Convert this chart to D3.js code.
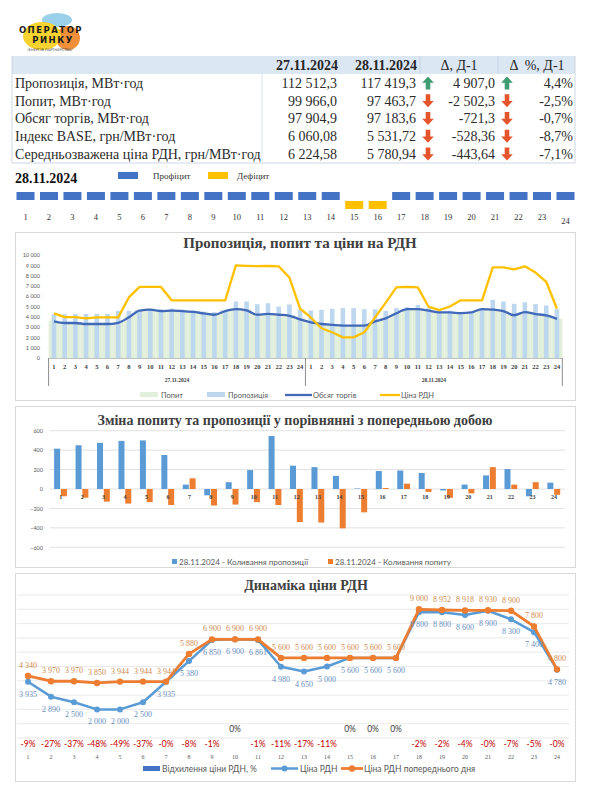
<!DOCTYPE html>
<html><head><meta charset="utf-8">
<script src="https://cdn.jsdelivr.net/npm/d3@7"></script>
<style>body{margin:0;background:#fff;} svg{display:block;}</style>
</head><body>
<svg id="c" width="593" height="800"></svg>
<script>
// ---------------- DATA ----------------
const tableHeaders = ["27.11.2024", "28.11.2024", "Δ, Д-1", "Δ  %, Д-1"];
const tableRows = ["Пропозиція, МВт·год", "Попит, МВт·год", "Обсяг торгів, МВт·год", "Індекс BASE, грн/МВт·год", "Середньозважена ціна РДН, грн/МВт·год"];
const valuesPrev = ["112 512,3", "99 966,0", "97 904,9", "6 060,08", "6 224,58"];
const valuesCur = ["117 419,3", "97 463,7", "97 183,6", "5 531,72", "5 780,94"];
const deltaAbs = ["4 907,0", "-2 502,3", "-721,3", "-528,36", "-443,64"];
const deltaPct = ["4,4%", "-2,5%", "-0,7%", "-8,7%", "-7,1%"];
const deltaDir = ["up", "down", "down", "down", "down"];

const hours = [1,2,3,4,5,6,7,8,9,10,11,12,13,14,15,16,17,18,19,20,21,22,23,24];
const balance = ["Профіцит","Профіцит","Профіцит","Профіцит","Профіцит","Профіцит","Профіцит","Профіцит","Профіцит","Профіцит","Профіцит","Профіцит","Профіцит","Профіцит","Дефіцит","Дефіцит","Профіцит","Профіцит","Профіцит","Профіцит","Профіцит","Профіцит","Профіцит","Профіцит"];

const days = ["27.11.2024", "28.11.2024"];
const supply27 = [4250,4230,4270,4270,4290,4290,4580,4580,4650,4700,4750,4800,4700,4620,4500,4450,4550,5480,5480,5230,5320,5000,5200,4680];
const supply28 = [4610,4680,4770,4840,4840,4740,4740,4580,4840,4940,5160,4840,4580,4580,4420,4420,4740,5650,5480,5260,5420,5230,5100,4740];
const demand27 = [3640,3490,3490,3390,3390,3390,3510,4040,4690,4790,4650,4690,4650,4570,4420,4290,4650,4840,4710,4290,4370,4290,4190,3840];
const demand28 = [3470,3310,3230,3160,3160,3160,3560,3860,4360,4760,4760,4610,4430,4430,4360,4430,4760,4710,4560,4160,4470,4280,4150,3810];
const volume27 = [3550,3400,3400,3300,3300,3300,3420,3950,4600,4700,4560,4600,4560,4480,4330,4200,4560,4750,4620,4200,4280,4200,4100,3750];
const volume28 = [3450,3300,3220,3150,3150,3150,3550,3850,4350,4750,4750,4600,4420,4420,4350,4420,4750,4700,4550,4150,4460,4270,4140,3800];
const pricePrev = [4340,3970,3970,3850,3944,3944,3944,5880,6900,6900,6900,5600,5600,5600,5600,5600,5600,9000,8952,8918,8930,8900,7800,4800];
const priceCur = [3935,2890,2500,2000,2000,2500,3935,5380,6850,6900,6861,4980,4650,5000,5600,5600,5600,8800,8800,8600,8900,8300,7400,4780];

const supplyChange = [415,450,475,495,500,350,45,-65,70,195,545,240,225,135,5,185,190,165,-15,45,140,205,-75,65];
const demandChange = [-75,-90,-130,-150,-135,-165,110,-170,-160,-135,-165,-340,-345,-405,-240,10,55,-30,-90,-45,225,45,70,-60];

const deviation = [-9.3,-27.2,-37.0,-48.1,-49.3,-36.6,-0.2,-8.5,-0.7,0,-0.6,-11.1,-17.0,-10.7,0,0,0,-2.2,-1.7,-3.6,-0.3,-6.7,-5.1,-0.4];

const chart1Ticks = [0,1000,2000,3000,4000,5000,6000,7000,8000,9000,10000];
const chart2Ticks = [-600,-400,-200,0,200,400,600];
const chart3Grid = [0,1000,2000,3000,4000,5000,6000,7000,8000,9000,10000];

// ---------------- HELPERS ----------------
const SERIF = "'Liberation Serif','Times New Roman',serif";
const SANS = "Lato,'Liberation Sans',Arial,sans-serif";
const svg = d3.select("#c");
svg.append("rect").attr("width",593).attr("height",800).attr("fill","#fff");
const fmtSp = v => d3.format(",")(v).replace(/,/g, " ");

function arrow(g, cx, cy, dir) {
  const s = dir === "up" ? -1 : 1;
  const p = d3.path();
  p.moveTo(cx, cy + s*6.5);
  p.lineTo(cx + 5.8, cy + s*0.2);
  p.lineTo(cx + 2.3, cy + s*0.2);
  p.lineTo(cx + 2.3, cy - s*6.5);
  p.lineTo(cx - 2.3, cy - s*6.5);
  p.lineTo(cx - 2.3, cy + s*0.2);
  p.lineTo(cx - 5.8, cy + s*0.2);
  p.closePath();
  g.append("path").attr("d", p.toString()).attr("fill", dir === "up" ? "#3f9b72" : "#e4552d");
}

// ---------------- LOGO ----------------
const logo = svg.append("g");
logo.append("ellipse").attr("cx",57).attr("cy",20).attr("rx",15).attr("ry",7).attr("fill","#8fcbe8").attr("opacity",0.9);
logo.append("ellipse").attr("cx",68).attr("cy",38).attr("rx",12).attr("ry",12).attr("fill","#f0913a");
logo.append("ellipse").attr("cx",42).attr("cy",36).attr("rx",19).attr("ry",14).attr("fill","#f6d330");
logo.append("text").attr("x",51).attr("y",33).attr("text-anchor","middle").attr("font-family","'DejaVu Sans',sans-serif")
  .attr("font-weight","bold").attr("font-size",8.5).attr("letter-spacing",1.5).attr("fill","#1a1a1a").text("ОПЕРАТОР");
logo.append("text").attr("x",53).attr("y",43).attr("text-anchor","middle").attr("font-family","'DejaVu Sans',sans-serif")
  .attr("font-weight","bold").attr("font-size",8.5).attr("letter-spacing",1.5).attr("fill","#1a1a1a").text("РИНКУ");
logo.append("text").attr("x",50).attr("y",51).attr("text-anchor","middle").attr("font-family","'DejaVu Sans',sans-serif")
  .attr("font-size",3.6).attr("fill","#333").text("/ЕНЕРГІЯ ПАРТНЕРСТВА/");

// ---------------- TABLE ----------------
const tbl = svg.append("g");
const tX0 = 12, tX1 = 575, hdrTop = 56, hdrBot = 74, rowH = 17.8;
tbl.append("rect").attr("x",tX0).attr("y",hdrTop).attr("width",tX1-tX0).attr("height",hdrBot-hdrTop).attr("fill","#dce7f4");
const bodyBot = hdrBot + rowH*tableRows.length;
tbl.append("path").attr("d",`M${tX0},${hdrTop}V${bodyBot}H${tX1}V${hdrTop}`).attr("fill","none").attr("stroke","#cdd7e3").attr("stroke-width",1);
tbl.append("line").attr("x1",262).attr("x2",262).attr("y1",hdrBot).attr("y2",bodyBot).attr("stroke","#dde3ea");
[420,498].forEach(x => tbl.append("line").attr("x1",x).attr("x2",x).attr("y1",hdrTop).attr("y2",hdrBot).attr("stroke","#c3d1e3"));
const hdrCenters = [307, 386, 459, 537];
tableHeaders.forEach((h,i) => tbl.append("text").attr("x",hdrCenters[i]).attr("y",70).attr("text-anchor","middle")
  .attr("font-family",SERIF).attr("font-weight",i < 2 ? "bold" : "normal").attr("font-size",14).attr("fill","#262626").attr("xml:space","preserve").text(h));
tableRows.forEach((r,i) => {
  const cy = hdrBot + rowH*i + rowH/2;
  const by = cy + 4.8;
  const t = (x, anchor, s) => tbl.append("text").attr("x",x).attr("y",by).attr("text-anchor",anchor)
    .attr("font-family",SERIF).attr("font-size",14).attr("fill","#2b2b2b").text(s);
  t(15,"start",r);
  t(337,"end",valuesPrev[i]);
  t(416,"end",valuesCur[i]);
  arrow(tbl, 428, cy, deltaDir[i]);
  t(495,"end",deltaAbs[i]);
  arrow(tbl, 507, cy, deltaDir[i]);
  t(573,"end",deltaPct[i]);
});

// ---------------- BALANCE TIMELINE ----------------
const tl = svg.append("g");
tl.append("text").attr("x",15).attr("y",183).attr("font-family",SERIF).attr("font-weight","bold").attr("font-size",14).attr("fill","#111").text("28.11.2024");
const balColor = {"Профіцит":"#4472c4","Дефіцит":"#ffc000"};
tl.append("rect").attr("x",118).attr("y",172).attr("width",20).attr("height",7).attr("fill",balColor["Профіцит"]);
tl.append("text").attr("x",153).attr("y",179).attr("font-family",SERIF).attr("font-size",9).attr("fill","#333").text("Профіцит");
tl.append("rect").attr("x",208).attr("y",172).attr("width",20).attr("height",7).attr("fill",balColor["Дефіцит"]);
tl.append("text").attr("x",237).attr("y",179).attr("font-family",SERIF).attr("font-size",9).attr("fill","#333").text("Дефіцит");
const xT = d3.scalePoint().domain(hours).range([25.5, 565.5]);
tl.selectAll("rect.blk").data(hours).join("rect").attr("class","blk")
  .attr("x",h => xT(h)-9).attr("width",18).attr("height",8)
  .attr("y",(h,i) => balance[i]==="Профіцит" ? 192 : 201)
  .attr("fill",(h,i) => balColor[balance[i]]);
tl.selectAll("text.hl").data(hours).join("text").attr("class","hl")
  .attr("x",h => xT(h)).attr("y",h => h===24 ? 224 : 220).attr("text-anchor","middle")
  .attr("font-family",SERIF).attr("font-size",8.5).attr("fill","#333").text(h => h);

// ---------------- CHART 1 ----------------
const c1 = svg.append("g");
c1.append("rect").attr("x",15.5).attr("y",232.5).attr("width",560).attr("height",168).attr("fill","none").attr("stroke","#d9d9d9");
c1.append("text").attr("x",300).attr("y",248).attr("text-anchor","middle").attr("font-family",SERIF).attr("font-weight","bold")
  .attr("font-size",15).attr("fill","#404040").text("Пропозиція, попит та ціни на РДН");
const idx48 = d3.range(48);
const sup = supply27.concat(supply28), dem = demand27.concat(demand28), vol = volume27.concat(volume28), prc = pricePrev.concat(priceCur);
const hr48 = hours.concat(hours);
const x1 = d3.scaleBand().domain(idx48).range([48.6, 562.3]).padding(0);
const y1 = d3.scaleLinear().domain([0,10000]).range([358,255]);
const cx1 = i => x1(i) + x1.bandwidth()/2;
c1.selectAll("rect.dem").data(idx48).join("rect").attr("class","dem")
  .attr("x",i => x1(i)).attr("width",x1.bandwidth()).attr("y",i => y1(dem[i])).attr("height",i => y1(0)-y1(dem[i])).attr("fill","#e2efda");
c1.selectAll("rect.sup").data(idx48).join("rect").attr("class","sup")
  .attr("x",i => cx1(i)-2.3).attr("width",4.6).attr("y",i => y1(sup[i])).attr("height",i => y1(0)-y1(sup[i])).attr("fill","#bdd7ee");
c1.append("path").attr("d",d3.line().x(cx1).y(i => y1(vol[i])).curve(d3.curveMonotoneX)(idx48)).attr("fill","none").attr("stroke","#4169b8").attr("stroke-width",2.3);
c1.append("path").attr("d",d3.line().x(cx1).y(i => y1(prc[i]))(idx48)).attr("fill","none").attr("stroke","#ffc000").attr("stroke-width",2.3).attr("stroke-linejoin","round");
const ax1 = c1.append("g").attr("transform","translate(43,0)").call(d3.axisLeft(y1).tickValues(chart1Ticks).tickSize(0).tickFormat(fmtSp));
ax1.select(".domain").remove();
ax1.selectAll("text").attr("font-family",SANS).attr("font-size",5.5).attr("fill","#595959");
c1.append("line").attr("x1",48.6).attr("x2",562.3).attr("y1",358.5).attr("y2",358.5).attr("stroke","#bfbfbf");
[0,24,48].forEach(k => {
  const x = k===48 ? 562.3 : x1(k);
  c1.append("line").attr("x1",x).attr("x2",x).attr("y1",358).attr("y2",386).attr("stroke","#8c8c8c");
});
c1.selectAll("text.h1").data(idx48).join("text").attr("class","h1")
  .attr("x",cx1).attr("y",369).attr("text-anchor","middle").attr("font-family",SERIF).attr("font-weight","bold")
  .attr("font-size",6.5).attr("fill","#404040").text(i => hr48[i]);
days.forEach((d,k) => c1.append("text").attr("x",(x1(k*24)+ (k===1?562.3:x1(24)))/2).attr("y",382).attr("text-anchor","middle")
  .attr("font-family",SERIF).attr("font-weight","bold").attr("font-size",5.5).attr("fill","#404040").text(d));
// legend
const lg1 = c1.append("g").attr("font-family",SANS).attr("font-size",7.5).attr("fill","#595959");
lg1.append("rect").attr("x",140).attr("y",392).attr("width",18).attr("height",5).attr("fill","#e2efda");
lg1.append("text").attr("x",161).attr("y",397.5).text("Попит");
lg1.append("rect").attr("x",207).attr("y",392).attr("width",18).attr("height",5).attr("fill","#bdd7ee");
lg1.append("text").attr("x",228).attr("y",397.5).text("Пропозиція");
lg1.append("line").attr("x1",285).attr("x2",312).attr("y1",395).attr("y2",395).attr("stroke","#4169b8").attr("stroke-width",2.3);
lg1.append("text").attr("x",313).attr("y",397.5).text("Обсяг торгів");
lg1.append("line").attr("x1",380).attr("x2",400).attr("y1",395).attr("y2",395).attr("stroke","#ffc000").attr("stroke-width",2.3);
lg1.append("text").attr("x",401).attr("y",397.5).text("Ціна РДН");

// ---------------- CHART 2 ----------------
const c2 = svg.append("g");
c2.append("rect").attr("x",15.5).attr("y",406.5).attr("width",560).attr("height",161).attr("fill","none").attr("stroke","#d9d9d9");
c2.append("text").attr("x",295).attr("y",425).attr("text-anchor","middle").attr("font-family",SERIF).attr("font-weight","bold")
  .attr("font-size",14).attr("fill","#404040").text("Зміна попиту та пропозиції у порівнянні з попередньою добою");
const x2 = d3.scaleBand().domain(hours).range([50, 564.7]).padding(0);
const y2 = d3.scaleLinear().domain([-600,600]).range([547.3,430.7]);
const cx2 = h => x2(h) + x2.bandwidth()/2;
c2.selectAll("line.g").data(chart2Ticks).join("line").attr("class","g")
  .attr("x1",50).attr("x2",565).attr("y1",v => y2(v)).attr("y2",v => y2(v)).attr("stroke","#d9d9d9").attr("stroke-width",0.8);
const ax2 = c2.append("g").attr("transform","translate(46,0)").call(d3.axisLeft(y2).tickValues(chart2Ticks).tickSize(0));
ax2.select(".domain").remove();
ax2.selectAll("text").attr("font-family",SANS).attr("font-size",5.5).attr("fill","#595959");
c2.selectAll("rect.s").data(hours).join("rect").attr("class","s")
  .attr("x",h => cx2(h)-6.6).attr("width",6).attr("y",(h,i) => y2(Math.max(0,supplyChange[i])))
  .attr("height",(h,i) => Math.abs(y2(supplyChange[i])-y2(0))).attr("fill","#5b9bd5");
c2.selectAll("rect.d").data(hours).join("rect").attr("class","d")
  .attr("x",h => cx2(h)+0.2).attr("width",6).attr("y",(h,i) => y2(Math.max(0,demandChange[i])))
  .attr("height",(h,i) => Math.abs(y2(demandChange[i])-y2(0))).attr("fill","#ed7d31");
c2.selectAll("text.h2").data(hours).join("text").attr("class","h2")
  .attr("x",cx2).attr("y",499).attr("text-anchor","middle").attr("font-family",SERIF).attr("font-weight","bold")
  .attr("font-size",6).attr("fill","#404040").text(h => h);
const lg2 = c2.append("g").attr("font-family",SANS).attr("font-size",8).attr("fill","#595959");
lg2.append("rect").attr("x",172).attr("y",559).attr("width",5).attr("height",5).attr("fill","#5b9bd5");
lg2.append("text").attr("x",179).attr("y",564.5).text("28.11.2024 - Коливання пропозиції");
lg2.append("rect").attr("x",328).attr("y",559).attr("width",5).attr("height",5).attr("fill","#ed7d31");
lg2.append("text").attr("x",335).attr("y",564.5).text("28.11.2024 - Коливання попиту");

// ---------------- CHART 3 ----------------
const c3 = svg.append("g");
c3.append("rect").attr("x",15.5).attr("y",573.5).attr("width",560).attr("height",208).attr("fill","none").attr("stroke","#d9d9d9");
c3.append("text").attr("x",306).attr("y",590).attr("text-anchor","middle").attr("font-family",SERIF).attr("font-weight","bold")
  .attr("font-size",14).attr("fill","#404040").text("Динаміка ціни РДН");
const x3 = d3.scalePoint().domain(hours).range([28, 557]);
const y3 = d3.scaleLinear().domain([0,10000]).range([738,595]);
c3.selectAll("line.g").data(chart3Grid).join("line").attr("class","g")
  .attr("x1",17).attr("x2",569).attr("y1",v => y3(v)).attr("y2",v => y3(v)).attr("stroke","#e3e3e3").attr("stroke-width",0.8);
c3.selectAll("text.h3").data(hours).join("text").attr("class","h3")
  .attr("x",x3).attr("y",759).attr("text-anchor","middle").attr("font-family",SERIF)
  .attr("font-size",6).attr("fill","#595959").text(h => h);
const fmtPct = v => { const r = Math.round(v); return (r === 0 ? (v < 0 ? "-0" : "0") : String(r)) + "%"; };
c3.selectAll("text.dv").data(hours).join("text").attr("class","dv")
  .attr("x",x3).attr("y",(h,i) => deviation[i] === 0 ? 732 : 747).attr("text-anchor","middle")
  .attr("font-family",SANS).attr("font-size",8.5)
  .attr("fill",(h,i) => deviation[i] === 0 ? "#404040" : "#c00000").text((h,i) => fmtPct(deviation[i]));
const lineB = d3.line().x(h => x3(h)).y((h,i) => y3(priceCur[i]));
const lineO = d3.line().x(h => x3(h)).y((h,i) => y3(pricePrev[i]));
c3.append("path").attr("d",lineB(hours)).attr("fill","none").attr("stroke","#5b9bd5").attr("stroke-width",2.5).attr("stroke-linejoin","round");
c3.selectAll("circle.b").data(hours).join("circle").attr("class","b")
  .attr("cx",x3).attr("cy",(h,i) => y3(priceCur[i])).attr("r",3).attr("fill","#5b9bd5");
c3.append("path").attr("d",lineO(hours)).attr("fill","none").attr("stroke","#ed7d31").attr("stroke-width",2.8).attr("stroke-linejoin","round");
c3.selectAll("circle.o").data(hours).join("circle").attr("class","o")
  .attr("cx",x3).attr("cy",(h,i) => y3(pricePrev[i])).attr("r",3.2).attr("fill","#ed7d31");
c3.selectAll("text.lo").data(hours).join("text").attr("class","lo")
  .attr("x",x3).attr("y",(h,i) => y3(pricePrev[i]) - 8).attr("text-anchor","middle")
  .attr("font-family",SERIF).attr("font-size",8).attr("fill","#d08a4e").text((h,i) => fmtSp(pricePrev[i]));
c3.selectAll("text.lb").data(hours).join("text").attr("class","lb")
  .attr("x",x3).attr("y",(h,i) => y3(priceCur[i]) + 15).attr("text-anchor","middle")
  .attr("font-family",SERIF).attr("font-size",8).attr("fill","#6a8fc2").text((h,i) => fmtSp(priceCur[i]));
const lg3 = c3.append("g").attr("font-family",SANS).attr("font-size",8.5).attr("fill","#595959");
lg3.append("rect").attr("x",143).attr("y",766).attr("width",17).attr("height",5).attr("fill","#4472c4");
lg3.append("text").attr("x",162).attr("y",771.5).text("Відхилення ціни РДН, %");
lg3.append("line").attr("x1",271).attr("x2",298).attr("y1",768.5).attr("y2",768.5).attr("stroke","#5b9bd5").attr("stroke-width",2.5);
lg3.append("circle").attr("cx",284.5).attr("cy",768.5).attr("r",3).attr("fill","#5b9bd5");
lg3.append("text").attr("x",300).attr("y",771.5).text("Ціна РДН");
lg3.append("line").attr("x1",341).attr("x2",363).attr("y1",768.5).attr("y2",768.5).attr("stroke","#ed7d31").attr("stroke-width",2.8);
lg3.append("circle").attr("cx",352).attr("cy",768.5).attr("r",3.2).attr("fill","#ed7d31");
lg3.append("text").attr("x",364).attr("y",771.5).text("Ціна РДН попереднього дня");
</script>
</body></html>
